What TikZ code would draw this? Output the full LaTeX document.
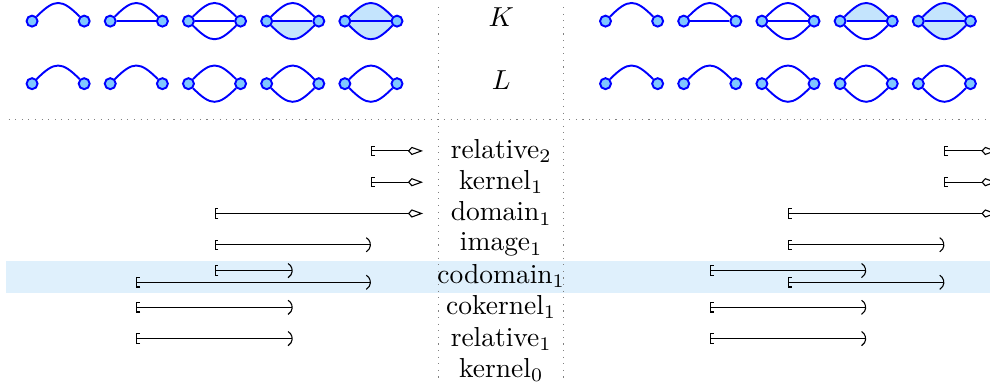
\documentclass[tikz,border=0pt]{standalone}
\usepackage{tikz}
\usetikzlibrary{arrows.meta, backgrounds}
\definecolor{vertexfill}{RGB}{128,200,255}
\definecolor{facefill}{RGB}{196,228,253}
\definecolor{bandfill}{RGB}{223,240,252}
\tikzset{
  vertex/.style={circle, draw=blue, fill=vertexfill, line width=0.7pt, inner sep=0pt, minimum size=4pt},
  edge/.style={blue, line width=0.7pt},
  face/.style={fill=facefill},
  sep/.style={gray, dotted},
  bar/.style={thin, arrows={Bracket[length=1.2pt, width=3.8pt]-Parenthesis[scale=1.2]}},
  openbar/.style={thin, arrows={Bracket[length=1.2pt, width=3.8pt]-Kite[open, length=5.5pt, width=3pt]}},
}

\begin{document}
\begin{tikzpicture}
  \useasboundingbox (-6.41,-3.0) rectangle (6.25,1.93);
  \clip (-6.41,-3.0) rectangle (6.25,1.93);
  % Vertices
  \foreach \s/\xo in {l/-7, r/0.3333}
    \foreach \r/\y in {K/1.66, L/0.86}
      \foreach \i in {1,...,5} {
        \node[vertex] (\s\r\i a) at ({\i+\xo},\y) {};
        \node[vertex] (\s\r\i b) at ({\i+\xo+0.6667},\y) {};
      }
  % Row labels
  \node (K) at (0,1.71) {$K$};
  \node (L) at (0,0.9) {$L$};
  \node (rel2) at (0,0) {relative$_2$};
  \node (ker1) at (0,-0.4) {kernel$_1$};
  \node (dom1) at (0,-0.8) {domain$_1$};
  \node (img1) at (0,-1.2) {image$_1$};
  \node (cod1) at (0,-1.6) {codomain$_1$};
  \node (coker1) at (0,-2.0) {cokernel$_1$};
  \node (rel1) at (0,-2.4) {relative$_1$};
  \node (ker0) at (0,-2.8) {kernel$_0$};
  \begin{scope}[on background layer]
    % Highlighted row
    \fill[bandfill] (-6.33,-1.41) rectangle (6.3,-1.82);
    % Separators
    \draw[sep] (-0.8,1.84) -- (-0.8,-2.92);
    \draw[sep] (0.8,1.84) -- (0.8,-2.92);
    \draw[sep] (-6.3,0.4) -- (6.3,0.4);
    % Faces
    \fill[face] (lK4a.center) .. controls +(-45:0.41) and +(-135:0.41) .. (lK4b.center) -- cycle;
    \fill[face] (rK4a.center) .. controls +(45:0.41) and +(135:0.41) .. (rK4b.center) -- cycle;
    \foreach \s in {l,r}
      \fill[face] (\s K5a.center) .. controls +(45:0.41) and +(135:0.41) .. (\s K5b.center)
        .. controls +(-135:0.41) and +(-45:0.41) .. (\s K5a.center) -- cycle;
    % Edges
    \foreach \s in {l,r}
      \foreach \r in {K,L} {
        \foreach \i in {1,...,5}
          \draw[edge] (\s\r\i a) .. controls +(45:0.41) and +(135:0.41) .. (\s\r\i b);
        \foreach \i in {3,4,5}
          \draw[edge] (\s\r\i a) .. controls +(-45:0.41) and +(-135:0.41) .. (\s\r\i b);
      }
    \foreach \s in {l,r}
      \foreach \i in {2,...,5}
        \draw[edge] (\s K\i a) -- (\s K\i b);
  \end{scope}
  % Bars, left
  \draw[openbar] (-5/3,0) -- (-1,0);
  \draw[openbar] (-5/3,-0.4) -- (-1,-0.4);
  \draw[openbar] (-11/3,-0.8) -- (-1,-0.8);
  \draw[bar] (-11/3,-1.2) -- (-5/3,-1.2);
  \draw[bar] (-11/3,-1.53) -- (-8/3,-1.53);
  \draw[bar] (-14/3,-1.68) -- (-5/3,-1.68);
  \draw[bar] (-14/3,-2.0) -- (-8/3,-2.0);
  \draw[bar] (-14/3,-2.4) -- (-8/3,-2.4);
  % Bars, right
  \draw[openbar] (17/3,0) -- (19/3,0);
  \draw[openbar] (17/3,-0.4) -- (19/3,-0.4);
  \draw[openbar] (11/3,-0.8) -- (19/3,-0.8);
  \draw[bar] (11/3,-1.2) -- (17/3,-1.2);
  \draw[bar] (8/3,-1.53) -- (14/3,-1.53);
  \draw[bar] (11/3,-1.68) -- (17/3,-1.68);
  \draw[bar] (8/3,-2.0) -- (14/3,-2.0);
  \draw[bar] (8/3,-2.4) -- (14/3,-2.4);
\end{tikzpicture}
\end{document}
